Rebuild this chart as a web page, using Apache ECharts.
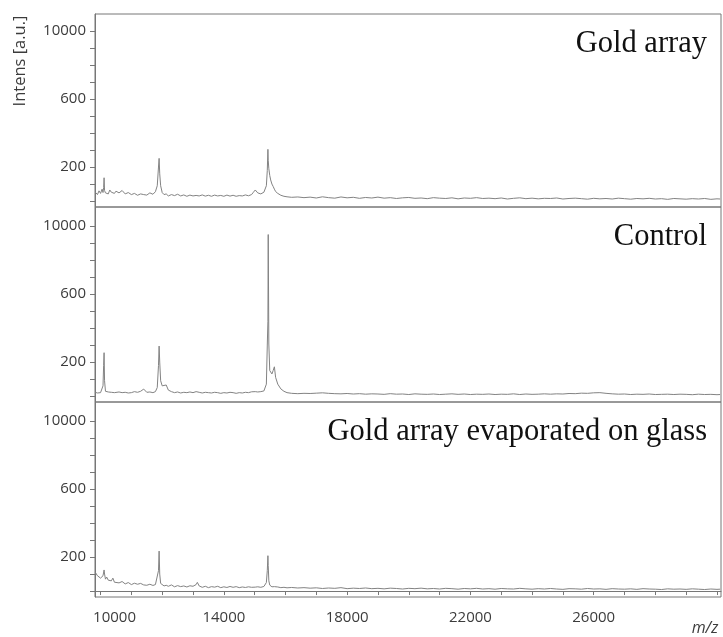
<!DOCTYPE html>
<html>
<head>
<meta charset="utf-8">
<title>MALDI spectra</title>
<script src="https://cdn.jsdelivr.net/npm/echarts@6/dist/echarts.min.js"></script>
<style>
  html, body { margin: 0; padding: 0; background: #fff; }
  #chart { width: 723px; height: 637px; }
</style>
</head>
<body>
<div id="chart"></div>
<script>
// m/z sampling positions shared by all three spectra
const mz = [
  9830, 9900, 9950, 10000, 10050, 10080, 10100, 10115, 10130, 10160,
  10200, 10250, 10300, 10350, 10400, 10450, 10500, 10600, 10700, 10800,
  10900, 11000, 11100, 11200, 11300, 11400, 11450, 11500, 11600, 11700,
  11780, 11840, 11880, 11900, 11920, 11950, 12000, 12060, 12130, 12200,
  12300, 12400, 12500, 12600, 12700, 12800, 12900, 13000, 13100, 13140,
  13200, 13300, 13400, 13500, 13600, 13700, 13800, 13900, 14000, 14100,
  14200, 14300, 14400, 14500, 14600, 14700, 14800, 14900, 14960, 15020,
  15100, 15200, 15300, 15380, 15410, 15430, 15440, 15460, 15490, 15520,
  15560, 15600, 15640, 15680, 15750, 15850, 15950, 16050, 16200, 16400,
  16600, 16800, 17000, 17200, 17400, 17600, 17800, 18000, 18200, 18400,
  18600, 18800, 19000, 19200, 19400, 19600, 19800, 20000, 20200, 20400,
  20600, 20800, 21000, 21200, 21400, 21600, 21800, 22000, 22200, 22400,
  22600, 22800, 23000, 23200, 23400, 23600, 23800, 24000, 24200, 24400,
  24600, 24800, 25000, 25200, 25400, 25600, 25800, 26000, 26200, 26400,
  26600, 26800, 27000, 27200, 27400, 27600, 27800, 28000, 28200, 28400,
  28600, 28800, 29000, 29200, 29400, 29600, 29800, 30000, 30100
];

// intensities, gold array
const goldArray = [
  520, 380, 600, 450, 700, 500, 800, 1370, 620, 480,
  560, 420, 650, 520, 600, 450, 580, 480, 620, 420,
  500, 380, 450, 340, 420, 380, 460, 350, 480, 400,
  550, 900, 2000, 2510, 1600, 900, 500, 380, 420, 300,
  380, 320, 400, 300, 360, 280, 350, 300, 330, 380,
  300, 360, 290, 340, 280, 350, 300, 330, 280, 350,
  290, 340, 280, 320, 300, 360, 310, 380, 520, 650,
  480, 420, 520, 900, 1800, 3040, 2400, 1900, 1500, 1240,
  1000, 860, 700, 560, 450, 340, 280, 250, 220, 240,
  200, 230, 180, 250, 200, 170, 240, 190, 220, 160,
  210, 180, 230, 170, 200, 150, 190, 210, 160, 180,
  140, 200, 170, 150, 190, 130, 180, 160, 200, 150,
  170, 140, 180, 120, 160, 190, 140, 170, 130, 160,
  150, 180, 120, 150, 170, 140, 110, 160, 130, 150,
  120, 170, 140, 110, 150, 130, 160, 120, 140, 100,
  150, 130, 110, 140, 120, 150, 100, 130, 120
];

// intensities, control
const control = [
  220, 180, 250, 200, 300, 600, 1800, 2550, 900, 280,
  200, 240, 180, 220, 260, 200, 180, 240, 200, 220,
  180, 200, 260, 220, 280, 410, 300, 220, 240, 200,
  260, 500, 1800, 2940, 2000, 900, 600, 550, 650, 350,
  260, 200, 240, 180, 220, 200, 240, 200, 260, 350,
  220, 180, 220, 200, 180, 220, 200, 160, 200, 180,
  220, 200, 160, 200, 180, 220, 200, 250, 300, 260,
  240, 260, 300, 700, 3000, 4400, 9500, 3060, 1500, 1600,
  1300, 1500, 1720, 1100, 700, 420, 280, 200, 160, 140,
  160, 150, 170, 190, 160, 140, 130, 150, 120, 140,
  110, 130, 120, 100, 140, 110, 120, 90, 130, 110,
  100, 120, 90, 110, 130, 100, 120, 90, 110, 100,
  120, 90, 110, 100, 130, 90, 120, 100, 110, 130,
  110, 130, 120, 150, 140, 170, 160, 190, 200, 160,
  130, 110, 120, 90, 110, 100, 120, 90, 100, 110,
  90, 110, 100, 80, 110, 90, 100, 80, 90
];

// intensities, gold array evaporated on glass
const goldOnGlass = [
  1100, 900, 1000, 760, 820, 900, 900, 1240, 1000, 700,
  820, 640, 700, 600, 760, 520, 600, 480, 560, 420,
  500, 380, 460, 400, 450, 360, 420, 340, 400, 330,
  380, 450, 1200, 2350, 1000, 450, 380, 300, 340, 280,
  360, 250, 320, 260, 300, 240, 310, 280, 380, 510,
  300, 220, 280, 200, 260, 230, 280, 200, 250, 210,
  270, 220, 260, 200, 240, 210, 250, 220, 260, 230,
  250, 220, 270, 500, 1200, 2080, 1500, 600, 350, 280,
  250, 230, 260, 220, 240, 200, 220, 190, 210, 180,
  200, 170, 190, 150, 180, 160, 200, 140, 170, 150,
  180, 140, 160, 130, 170, 150, 120, 160, 140, 170,
  130, 150, 120, 160, 140, 110, 150, 130, 160, 120,
  140, 110, 150, 130, 120, 160, 130, 110, 140, 120,
  150, 120, 100, 140, 130, 110, 150, 120, 130, 100,
  140, 120, 110, 130, 100, 140, 120, 110, 90, 130,
  110, 120, 100, 130, 110, 90, 120, 100, 110
];

const panelTitles = ['Gold array', 'Control', 'Gold array evaporated on glass'];

// axis ticks and their printed labels
const xTicks = [10000, 11000, 12000, 13000, 14000, 15000, 16000, 17000, 18000, 19000,
  20000, 21000, 22000, 23000, 24000, 25000, 26000, 27000, 28000, 29000, 30000];
const xLabelValues = [10000, 14000, 18000, 22000, 26000];
const yTicks = [0, 1000, 2000, 3000, 4000, 5000, 6000, 7000, 8000, 9000, 10000];
const yLabelValues = [2000, 6000, 10000];
const yLabelTexts = ['200', '600', '10000'];

const seriesValues = [goldArray, control, goldOnGlass];

const panelTop = [14, 207, 402];
const panelHeight = [193, 195, 195];
const axisGray = '#777777';
const labelColor = '#3c3c3c';

const grids = [], xAxes = [], yAxes = [], series = [], titles = [];
for (let i = 0; i < 3; i++) {
  grids.push({
    left: 95, right: 2, top: panelTop[i], height: panelHeight[i],
    show: true, borderColor: axisGray, borderWidth: 1, backgroundColor: 'transparent'
  });
  const last = i === 2;
  xAxes.push({
    type: 'value', gridIndex: i, min: 9820, max: 30130,
    show: last,
    axisLine: { show: true, lineStyle: { color: axisGray, width: 1 } },
    axisTick: { show: true, length: 4, customValues: xTicks, lineStyle: { color: axisGray } },
    axisLabel: {
      show: true, customValues: xLabelValues, margin: 13,
      color: labelColor, fontFamily: 'Open Sans', fontSize: 15,
      // the first label sits a little right of its tick
      formatter: v => v === xLabelValues[0] ? '{first|' + v + '}' : String(v),
      rich: {
        first: { padding: [0, 0, 0, 28], color: labelColor, fontFamily: 'Open Sans', fontSize: 15 }
      }
    },
    splitLine: { show: false }
  });
  yAxes.push({
    type: 'value', gridIndex: i, min: -350, max: i === 0 ? 11000 : 11120,
    axisLine: { show: true, lineStyle: { color: axisGray, width: 1 } },
    axisTick: { show: true, length: 5, customValues: yTicks, lineStyle: { color: axisGray } },
    axisLabel: {
      show: true, customValues: yLabelValues, margin: 9,
      color: labelColor, fontFamily: 'Open Sans', fontSize: 15,
      formatter: v => yLabelTexts[yLabelValues.indexOf(v)]
    },
    splitLine: { show: false }
  });
  series.push({
    type: 'line', xAxisIndex: i, yAxisIndex: i,
    data: mz.map((m, k) => [m, seriesValues[i][k]]),
    showSymbol: false, symbol: 'none', silent: true,
    lineStyle: { color: '#838383', width: 1 },
    animation: false
  });
  titles.push({
    text: panelTitles[i], right: 16, top: panelTop[i] + 14, padding: 0,
    textStyle: { fontFamily: 'Liberation Serif', fontSize: 30.5, fontWeight: 'normal', color: '#111' }
  });
}

const chart = echarts.init(document.getElementById('chart'), null, { renderer: 'canvas' });
chart.setOption({
  animation: false,
  backgroundColor: '#ffffff',
  title: titles,
  grid: grids,
  xAxis: xAxes,
  yAxis: yAxes,
  series: series,
  graphic: [
    {
      type: 'text', x: 20, y: 61, rotation: Math.PI / 2,
      style: { text: 'Intens [a.u.]', font: '16.5px "Open Sans"', fill: labelColor, align: 'center', verticalAlign: 'middle' }
    },
    {
      type: 'text', x: 705, y: 628,
      style: { text: 'm/z', font: 'italic 16px "Open Sans"', fill: labelColor, align: 'center', verticalAlign: 'middle' }
    }
  ]
});
</script>
</body>
</html>
